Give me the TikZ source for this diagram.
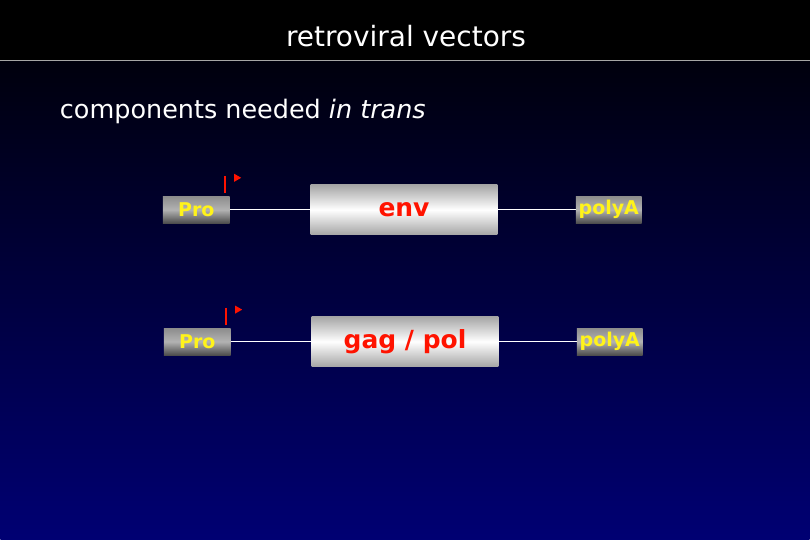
\documentclass[tikz,border=0pt]{standalone}
\usepackage{fontspec}
\setmainfont{DejaVu Sans}
\begin{document}
\begin{tikzpicture}[x=1pt,y=-1pt,
  gene/.style={draw=none,top color=gray!70,bottom color=gray!70,middle color=white,font=\fontsize{25}{25}\selectfont\bfseries,text=red!85!orange},
  small/.style={draw=none,top color=gray!90,bottom color=black!70,middle color=gray!60,font=\fontsize{19}{19}\selectfont\bfseries,text=yellow!90!white},
  wire/.style={white,line width=1.5pt},
  prom/.style={red!85!orange,line width=1.5pt}]
\shade[top color=black,bottom color=blue!45!black] (0,0) rectangle (810,540);
\fill[black] (0,0) rectangle (810,61);
\draw[gray!70,line width=1pt] (0,61) -- (810,61);
\node[white,font=\fontsize{28}{28}\selectfont] (title) at (406,36) {retroviral vectors};
\node[white,font=\fontsize{25.5}{25.5}\selectfont,anchor=west] (sub) at (56,112) {components needed \textit{in trans}};
\foreach \n/\y/\o/\lab in {a/210/0/{env},b/342/1/{gag / pol}}{
  \node[small,minimum width=67pt,minimum height=27pt,inner sep=0pt] (pro\n) at (196+\o,\y) {Pro};
  \node[gene,minimum width=187pt,minimum height=50pt,inner sep=0pt] (g\n) at (404+\o,\y) {\lab};
  \node[small,minimum width=66pt,minimum height=27pt,inner sep=0pt] (pa\n) at (609+\o,\y) {polyA};
  \draw[wire] (pro\n) -- (g\n);
  \draw[wire] (g\n) -- (pa\n);
  \draw[prom] (225+\o,\y-34) -- (225+\o,\y-17);
  \fill[red!85!orange] (234+\o,\y-36) -- (241+\o,\y-32) -- (234+\o,\y-28) -- cycle;
}
\end{tikzpicture}
\end{document}
